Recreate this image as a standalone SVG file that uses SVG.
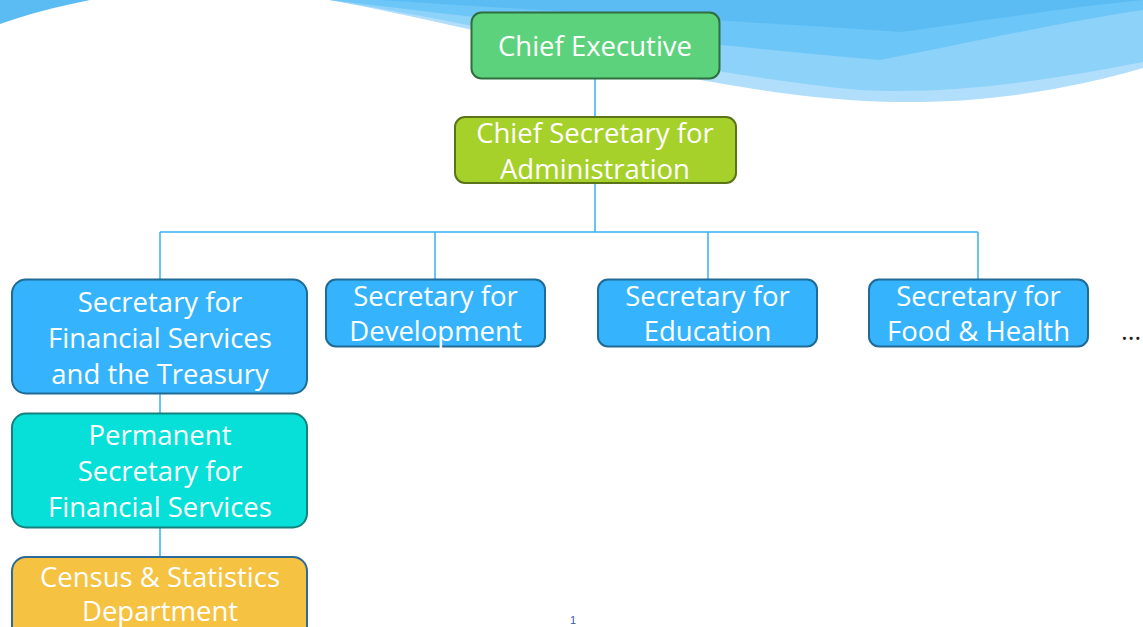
<svg xmlns="http://www.w3.org/2000/svg" width="1143" height="627" viewBox="0 0 1143 627">
<style>
.box{stroke-width:2}
.t{font-family:"Open Sans","Noto Sans",sans-serif;font-size:27.5px;fill:#ffffff;text-anchor:middle}
.conn{stroke:#35b0f5;stroke-width:1.5;fill:none}
</style>
<rect x="0" y="0" width="1143" height="627" fill="#ffffff"/>
<g id="background">
<path d="M0,0 L90,0 C55,7 25,15 0,24 Z" fill="#5bbcf3"/>
<path d="M330,0 C520,35 720,100 900,102 C1000,103 1080,86 1143,68 L1143,0 Z" fill="#b0defb"/>
<path d="M330,0 C500,28 700,75 860,90 C960,95 1060,78 1143,62 L1143,0 Z" fill="#8dd2f9"/>
<path d="M330,0 C500,20 700,45 880,60 C960,45 1060,22 1143,10 L1143,0 Z" fill="#6cc6f7"/>
<path d="M380,0 C560,12 760,22 900,32 C1000,18 1080,6 1143,0 Z" fill="#5bbcf3"/>
</g>
<g id="connectors">
<line class="conn" x1="595" y1="78" x2="595" y2="117"/>
<line class="conn" x1="595" y1="183" x2="595" y2="232"/>
<line class="conn" x1="160" y1="232" x2="978" y2="232"/>
<line class="conn" x1="160" y1="232" x2="160" y2="279"/>
<line class="conn" x1="435" y1="232" x2="435" y2="279"/>
<line class="conn" x1="708" y1="232" x2="708" y2="279"/>
<line class="conn" x1="978" y1="232" x2="978" y2="279"/>
<line class="conn" x1="160" y1="394" x2="160" y2="413"/>
<line class="conn" x1="160" y1="527" x2="160" y2="557"/>
</g>
<g id="chief-executive">
<rect class="box" x="471.5" y="12.5" width="248" height="66" rx="10" fill="#5dd27c" stroke="#2f6e3f"/>
<text class="t" x="595" y="56">Chief Executive</text>
</g>
<g id="chief-secretary">
<rect class="box" x="455" y="117" width="281" height="66" rx="10" fill="#a6d12a" stroke="#5b7418"/>
<text class="t" x="595" y="143">Chief Secretary for</text>
<text class="t" x="595" y="179">Administration</text>
</g>
<g id="sec-financial">
<rect class="box" x="12" y="279.5" width="295" height="114" rx="14" fill="#35b4fd" stroke="#1f6a96"/>
<text class="t" x="160" y="312">Secretary for</text>
<text class="t" x="160" y="348">Financial Services</text>
<text class="t" x="160" y="384">and the Treasury</text>
</g>
<g id="sec-development">
<rect class="box" x="326" y="279.5" width="219" height="67" rx="10" fill="#35b4fd" stroke="#1f6a96"/>
<text class="t" x="435.5" y="306">Secretary for</text>
<text class="t" x="435.5" y="341">Development</text>
</g>
<g id="sec-education">
<rect class="box" x="598" y="279.5" width="219" height="67" rx="10" fill="#35b4fd" stroke="#1f6a96"/>
<text class="t" x="707.5" y="306">Secretary for</text>
<text class="t" x="707.5" y="341">Education</text>
</g>
<g id="sec-food-health">
<rect class="box" x="869" y="279.5" width="219" height="67" rx="10" fill="#35b4fd" stroke="#1f6a96"/>
<text class="t" x="978.5" y="306">Secretary for</text>
<text class="t" x="978.5" y="341">Food &amp; Health</text>
</g>
<g id="perm-secretary">
<rect class="box" x="12" y="413.5" width="295" height="114" rx="14" fill="#06e0d8" stroke="#16807c"/>
<text class="t" x="160" y="445">Permanent</text>
<text class="t" x="160" y="481">Secretary for</text>
<text class="t" x="160" y="517">Financial Services</text>
</g>
<g id="census">
<rect class="box" x="12" y="557" width="295" height="90" rx="14" fill="#f5c242" stroke="#2b6a9a"/>
<text class="t" x="160" y="587">Census &amp; Statistics</text>
<text class="t" x="160" y="621">Department</text>
</g>
<text x="1131" y="340" font-family="Open Sans, sans-serif" font-size="26" fill="#222222" text-anchor="middle">…</text>
<text x="573" y="624" font-family="Liberation Sans, sans-serif" font-size="11" fill="#3a5ca8" text-anchor="middle">1</text>
</svg>
